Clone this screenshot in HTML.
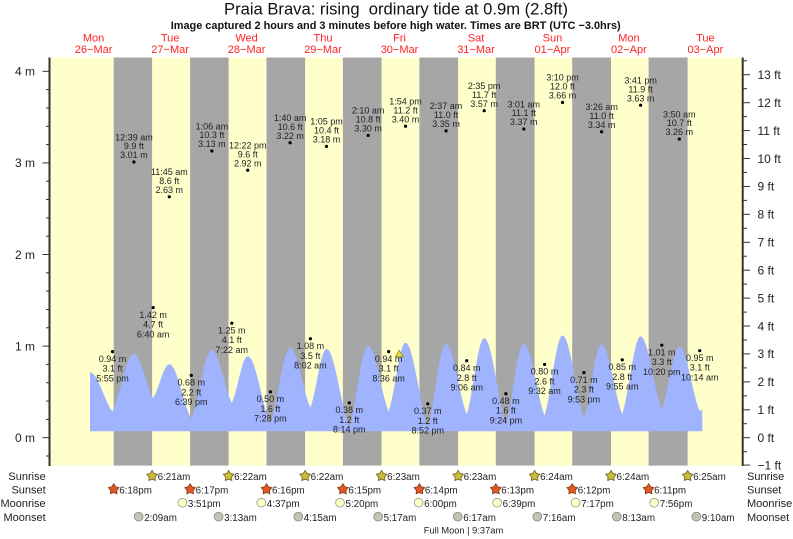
<!DOCTYPE html>
<html><head><meta charset="utf-8"><title>Praia Brava tide</title>
<style>
html,body{margin:0;padding:0;background:#fff;}
svg{display:block;}
text{font-family:"Liberation Sans",Arial,Helvetica,sans-serif;}
.tl{font-size:9px;fill:#222;text-anchor:middle;}
.day{font-size:11px;fill:#f22;text-anchor:middle;}
.ax{font-size:12px;fill:#222;}
.row{font-size:11px;fill:#222;}
.rt{font-size:9.8px;fill:#222;}
</style></head>
<body>
<svg width="793" height="539" viewBox="0 0 793 539" xmlns="http://www.w3.org/2000/svg">
<defs>
<path id="star" d="M0,-5.5 L1.85,-2.55 L5.23,-1.7 L3.0,0.98 L3.23,4.45 L0,3.15 L-3.23,4.45 L-3.0,0.98 L-5.23,-1.7 L-1.85,-2.55 Z"/>
</defs>
<rect x="0" y="0" width="793" height="539" fill="#fff"/>
<!-- title -->
<text x="396" y="14.5" font-size="16.6" fill="#111" text-anchor="middle" textLength="344" lengthAdjust="spacingAndGlyphs" style="white-space:pre" xml:space="preserve">Praia Brava: rising  ordinary tide at 0.9m (2.8ft)</text>
<text x="395.7" y="29" font-size="11" font-weight="bold" fill="#111" text-anchor="middle" textLength="450" lengthAdjust="spacingAndGlyphs">Image captured 2 hours and 3 minutes before high water. Times are BRT (UTC −3.0hrs)</text>
<!-- day labels -->
<g class="day">
<text x="93.6" y="41.5">Mon</text><text x="93.6" y="53">26−Mar</text>
<text x="170.1" y="41.5">Tue</text><text x="170.1" y="53">27−Mar</text>
<text x="246.6" y="41.5">Wed</text><text x="246.6" y="53">28−Mar</text>
<text x="323" y="41.5">Thu</text><text x="323" y="53">29−Mar</text>
<text x="399.5" y="41.5">Fri</text><text x="399.5" y="53">30−Mar</text>
<text x="476" y="41.5">Sat</text><text x="476" y="53">31−Mar</text>
<text x="552.4" y="41.5">Sun</text><text x="552.4" y="53">01−Apr</text>
<text x="628.9" y="41.5">Mon</text><text x="628.9" y="53">02−Apr</text>
<text x="705.4" y="41.5">Tue</text><text x="705.4" y="53">03−Apr</text>
</g>
<!-- plot background -->
<rect x="50" y="57.5" width="692.7" height="408.1" fill="#ffffcc"/>
<g fill="#a6a6a6">
<rect x="113.7" y="57.5" width="38.4" height="408.1"/>
<rect x="190.1" y="57.5" width="38.5" height="408.1"/>
<rect x="266.5" y="57.5" width="38.6" height="408.1"/>
<rect x="342.9" y="57.5" width="38.7" height="408.1"/>
<rect x="419.4" y="57.5" width="38.7" height="408.1"/>
<rect x="495.8" y="57.5" width="38.8" height="408.1"/>
<rect x="572.2" y="57.5" width="38.8" height="408.1"/>
<rect x="648.6" y="57.5" width="39" height="408.1"/>
</g>
<!-- tide fill -->
<path fill="#9fb3ff" d="M90,431.3 L90,372.4
C98.09,372.4 104.39,401.69 112.48,411.46
C120.21,397.01 126.21,353.66 133.94,353.66
C140.84,353.66 146.21,386.95 153.11,398.05
C158.94,389.6 163.47,364.27 169.3,364.27
C177.22,364.27 183.37,405.1 191.29,418.71
C198.68,401.61 204.44,350.31 211.83,350.31
C219.02,350.31 224.61,389.68 231.8,402.8
C237.53,391.14 242,356.17 247.73,356.17
C255.87,356.17 262.21,406.85 270.35,423.74
C277.46,404.75 282.99,347.8 290.1,347.8
C297.4,347.8 303.09,392.61 310.39,407.55
C316.18,392.89 320.69,348.91 326.48,348.91
C334.68,348.91 341.06,407.54 349.26,427.09
C356.06,406.71 361.36,345.56 368.16,345.56
C375.54,345.56 381.28,394.98 388.66,411.46
C394.74,394.29 399.47,342.77 405.55,342.77
C413.54,342.77 419.75,406.22 427.74,427.37
C434.34,406.57 439.46,344.17 446.06,344.17
C453.5,344.17 459.28,396.73 466.72,414.25
C473.01,395.19 477.89,338.03 484.18,338.03
C492,338.03 498.08,402.73 505.9,424.3
C512.34,404.13 517.36,343.61 523.8,343.61
C531.27,343.61 537.09,397.42 544.56,415.36
C551.02,395.4 556.05,335.51 562.51,335.51
C570.21,335.51 576.2,397.29 583.9,417.88
C590.27,399.52 595.22,344.45 601.59,344.45
C609.02,344.45 614.81,396.59 622.24,413.97
C628.85,394.56 634,336.35 640.61,336.35
C648.24,336.35 654.17,391.21 661.8,409.5
C668.11,393.79 673.01,346.68 679.32,346.68
C686.66,346.68 692.37,395.05 699.71,411.18
L702.3,409.2 L702.3,431.3 Z"/>
<!-- dots -->
<g fill="#000">
<circle cx="112.48" cy="351.6" r="1.6"/>
<circle cx="133.94" cy="161.98" r="1.6"/>
<circle cx="153.11" cy="307.63" r="1.6"/>
<circle cx="169.3" cy="196.79" r="1.6"/>
<circle cx="191.29" cy="375.41" r="1.6"/>
<circle cx="211.83" cy="150.99" r="1.6"/>
<circle cx="231.8" cy="323.2" r="1.6"/>
<circle cx="247.73" cy="170.23" r="1.6"/>
<circle cx="270.35" cy="391.9" r="1.6"/>
<circle cx="290.1" cy="142.75" r="1.6"/>
<circle cx="310.39" cy="338.77" r="1.6"/>
<circle cx="326.48" cy="146.41" r="1.6"/>
<circle cx="349.26" cy="402.89" r="1.6"/>
<circle cx="368.16" cy="135.42" r="1.6"/>
<circle cx="388.66" cy="351.6" r="1.6"/>
<circle cx="405.55" cy="126.26" r="1.6"/>
<circle cx="427.74" cy="403.81" r="1.6"/>
<circle cx="446.06" cy="130.84" r="1.6"/>
<circle cx="466.72" cy="360.76" r="1.6"/>
<circle cx="484.18" cy="110.69" r="1.6"/>
<circle cx="505.9" cy="393.73" r="1.6"/>
<circle cx="523.8" cy="129.01" r="1.6"/>
<circle cx="544.56" cy="364.42" r="1.6"/>
<circle cx="562.51" cy="102.44" r="1.6"/>
<circle cx="583.9" cy="372.66" r="1.6"/>
<circle cx="601.59" cy="131.76" r="1.6"/>
<circle cx="622.24" cy="359.84" r="1.6"/>
<circle cx="640.61" cy="105.19" r="1.6"/>
<circle cx="661.8" cy="345.18" r="1.6"/>
<circle cx="679.32" cy="139.08" r="1.6"/>
<circle cx="699.71" cy="350.68" r="1.6"/>
</g>
<!-- high tide labels -->
<g class="tl">
<text x="133.94" y="140.3">12:39 am</text><text x="133.94" y="149.1">9.9 ft</text><text x="133.94" y="158.1">3.01 m</text>
<text x="169.3" y="175.1">11:45 am</text><text x="169.3" y="183.9">8.6 ft</text><text x="169.3" y="192.9">2.63 m</text>
<text x="211.83" y="129.3">1:06 am</text><text x="211.83" y="138.1">10.3 ft</text><text x="211.83" y="147.1">3.13 m</text>
<text x="247.73" y="148.5">12:22 pm</text><text x="247.73" y="157.3">9.6 ft</text><text x="247.73" y="166.3">2.92 m</text>
<text x="290.1" y="121.1">1:40 am</text><text x="290.1" y="129.9">10.6 ft</text><text x="290.1" y="138.9">3.22 m</text>
<text x="326.48" y="124.7">1:05 pm</text><text x="326.48" y="133.5">10.4 ft</text><text x="326.48" y="142.5">3.18 m</text>
<text x="368.16" y="113.7">2:10 am</text><text x="368.16" y="122.5">10.8 ft</text><text x="368.16" y="131.5">3.30 m</text>
<text x="405.55" y="104.6">1:54 pm</text><text x="405.55" y="113.4">11.2 ft</text><text x="405.55" y="122.4">3.40 m</text>
<text x="446.06" y="109.1">2:37 am</text><text x="446.06" y="117.9">11.0 ft</text><text x="446.06" y="126.9">3.35 m</text>
<text x="484.18" y="89">2:35 pm</text><text x="484.18" y="97.8">11.7 ft</text><text x="484.18" y="106.8">3.57 m</text>
<text x="523.8" y="107.3">3:01 am</text><text x="523.8" y="116.1">11.1 ft</text><text x="523.8" y="125.1">3.37 m</text>
<text x="562.51" y="80.7">3:10 pm</text><text x="562.51" y="89.5">12.0 ft</text><text x="562.51" y="98.5">3.66 m</text>
<text x="601.59" y="110.1">3:26 am</text><text x="601.59" y="118.9">11.0 ft</text><text x="601.59" y="127.9">3.34 m</text>
<text x="640.61" y="83.5">3:41 pm</text><text x="640.61" y="92.3">11.9 ft</text><text x="640.61" y="101.3">3.63 m</text>
<text x="679.32" y="117.4">3:50 am</text><text x="679.32" y="126.2">10.7 ft</text><text x="679.32" y="135.2">3.26 m</text>
</g>
<!-- low tide labels -->
<g class="tl">
<text x="112.48" y="361.9">0.94 m</text><text x="112.48" y="371.6">3.1 ft</text><text x="112.48" y="381.3">5:55 pm</text>
<text x="153.11" y="317.9">1.42 m</text><text x="153.11" y="327.6">4.7 ft</text><text x="153.11" y="337.3">6:40 am</text>
<text x="191.29" y="385.7">0.68 m</text><text x="191.29" y="395.4">2.2 ft</text><text x="191.29" y="405.1">6:39 pm</text>
<text x="231.8" y="333.5">1.25 m</text><text x="231.8" y="343.2">4.1 ft</text><text x="231.8" y="352.9">7:22 am</text>
<text x="270.35" y="402.2">0.50 m</text><text x="270.35" y="411.9">1.6 ft</text><text x="270.35" y="421.6">7:28 pm</text>
<text x="310.39" y="349.1">1.08 m</text><text x="310.39" y="358.8">3.5 ft</text><text x="310.39" y="368.5">8:02 am</text>
<text x="349.26" y="413.2">0.38 m</text><text x="349.26" y="422.9">1.2 ft</text><text x="349.26" y="432.6">8:14 pm</text>
<text x="388.66" y="361.9">0.94 m</text><text x="388.66" y="371.6">3.1 ft</text><text x="388.66" y="381.3">8:36 am</text>
<text x="427.74" y="414.1">0.37 m</text><text x="427.74" y="423.8">1.2 ft</text><text x="427.74" y="433.5">8:52 pm</text>
<text x="466.72" y="371.1">0.84 m</text><text x="466.72" y="380.8">2.8 ft</text><text x="466.72" y="390.5">9:06 am</text>
<text x="505.9" y="404">0.48 m</text><text x="505.9" y="413.7">1.6 ft</text><text x="505.9" y="423.4">9:24 pm</text>
<text x="544.56" y="374.7">0.80 m</text><text x="544.56" y="384.4">2.6 ft</text><text x="544.56" y="394.1">9:32 am</text>
<text x="583.9" y="383">0.71 m</text><text x="583.9" y="392.7">2.3 ft</text><text x="583.9" y="402.4">9:53 pm</text>
<text x="622.24" y="370.1">0.85 m</text><text x="622.24" y="379.8">2.8 ft</text><text x="622.24" y="389.5">9:55 am</text>
<text x="661.8" y="355.5">1.01 m</text><text x="661.8" y="365.2">3.3 ft</text><text x="661.8" y="374.9">10:20 pm</text>
<text x="699.71" y="361">0.95 m</text><text x="699.71" y="370.7">3.1 ft</text><text x="699.71" y="380.4">10:14 am</text>
</g>
<!-- current marker -->
<polygon points="399.3,350.3 395.4,356.8 403.2,356.8" fill="#e8e030" stroke="#8a8030" stroke-width="0.7"/>
<!-- axes -->
<line x1="49.5" y1="57.5" x2="49.5" y2="466" stroke="#333" stroke-width="2"/>
<line x1="742.7" y1="57.5" x2="742.7" y2="466" stroke="#333" stroke-width="2"/>
<g stroke="#333" stroke-width="1">
<line x1="42.5" y1="437.7" x2="49" y2="437.7"/>
<line x1="42.5" y1="346.1" x2="49" y2="346.1"/>
<line x1="42.5" y1="254.5" x2="49" y2="254.5"/>
<line x1="42.5" y1="162.9" x2="49" y2="162.9"/>
<line x1="42.5" y1="71.3" x2="49" y2="71.3"/>
<line x1="46" y1="456" x2="49" y2="456"/>
<line x1="46" y1="419.4" x2="49" y2="419.4"/>
<line x1="46" y1="401.1" x2="49" y2="401.1"/>
<line x1="46" y1="382.7" x2="49" y2="382.7"/>
<line x1="46" y1="364.4" x2="49" y2="364.4"/>
<line x1="46" y1="327.8" x2="49" y2="327.8"/>
<line x1="46" y1="309.5" x2="49" y2="309.5"/>
<line x1="46" y1="291.1" x2="49" y2="291.1"/>
<line x1="46" y1="272.8" x2="49" y2="272.8"/>
<line x1="46" y1="236.2" x2="49" y2="236.2"/>
<line x1="46" y1="217.9" x2="49" y2="217.9"/>
<line x1="46" y1="199.5" x2="49" y2="199.5"/>
<line x1="46" y1="181.2" x2="49" y2="181.2"/>
<line x1="46" y1="144.6" x2="49" y2="144.6"/>
<line x1="46" y1="126.3" x2="49" y2="126.3"/>
<line x1="46" y1="107.9" x2="49" y2="107.9"/>
<line x1="46" y1="89.6" x2="49" y2="89.6"/>
<line x1="743" y1="465.1" x2="750" y2="465.1"/>
<line x1="743" y1="437.7" x2="750" y2="437.7"/>
<line x1="743" y1="409.8" x2="750" y2="409.8"/>
<line x1="743" y1="381.9" x2="750" y2="381.9"/>
<line x1="743" y1="353.9" x2="750" y2="353.9"/>
<line x1="743" y1="326" x2="750" y2="326"/>
<line x1="743" y1="298.1" x2="750" y2="298.1"/>
<line x1="743" y1="270.2" x2="750" y2="270.2"/>
<line x1="743" y1="242.3" x2="750" y2="242.3"/>
<line x1="743" y1="214.3" x2="750" y2="214.3"/>
<line x1="743" y1="186.4" x2="750" y2="186.4"/>
<line x1="743" y1="158.5" x2="750" y2="158.5"/>
<line x1="743" y1="130.6" x2="750" y2="130.6"/>
<line x1="743" y1="102.7" x2="750" y2="102.7"/>
<line x1="743" y1="74.7" x2="750" y2="74.7"/>
<line x1="743" y1="451.7" x2="747" y2="451.7"/>
<line x1="743" y1="423.7" x2="747" y2="423.7"/>
<line x1="743" y1="395.8" x2="747" y2="395.8"/>
<line x1="743" y1="367.9" x2="747" y2="367.9"/>
<line x1="743" y1="340" x2="747" y2="340"/>
<line x1="743" y1="312.1" x2="747" y2="312.1"/>
<line x1="743" y1="284.1" x2="747" y2="284.1"/>
<line x1="743" y1="256.2" x2="747" y2="256.2"/>
<line x1="743" y1="228.3" x2="747" y2="228.3"/>
<line x1="743" y1="200.4" x2="747" y2="200.4"/>
<line x1="743" y1="172.5" x2="747" y2="172.5"/>
<line x1="743" y1="144.5" x2="747" y2="144.5"/>
<line x1="743" y1="116.6" x2="747" y2="116.6"/>
<line x1="743" y1="88.7" x2="747" y2="88.7"/>
<line x1="743" y1="60.8" x2="747" y2="60.8"/>
</g>
<!-- left axis labels -->
<g class="ax" text-anchor="end">
<text x="35" y="442">0 m</text>
<text x="35" y="350.4">1 m</text>
<text x="35" y="258.8">2 m</text>
<text x="35" y="167.2">3 m</text>
<text x="35" y="75.6">4 m</text>
</g>
<!-- right axis labels -->
<g class="ax">
<text x="757.5" y="469.6">−1 ft</text>
<text x="757.5" y="442">0 ft</text>
<text x="757.5" y="414.1">1 ft</text>
<text x="757.5" y="386.2">2 ft</text>
<text x="757.5" y="358.2">3 ft</text>
<text x="757.5" y="330.3">4 ft</text>
<text x="757.5" y="302.4">5 ft</text>
<text x="757.5" y="274.5">6 ft</text>
<text x="757.5" y="246.6">7 ft</text>
<text x="757.5" y="218.6">8 ft</text>
<text x="757.5" y="190.7">9 ft</text>
<text x="757.5" y="162.8">10 ft</text>
<text x="757.5" y="134.9">11 ft</text>
<text x="757.5" y="107">12 ft</text>
<text x="757.5" y="79">13 ft</text>
</g>
<!-- row labels -->
<g class="row" text-anchor="end">
<text x="45.7" y="479.8">Sunrise</text>
<text x="45.7" y="493.5">Sunset</text>
<text x="45.7" y="507">Moonrise</text>
<text x="45.7" y="520.8">Moonset</text>
</g>
<g class="row">
<text x="747" y="479.8">Sunrise</text>
<text x="747" y="493.5">Sunset</text>
<text x="747" y="507">Moonrise</text>
<text x="747" y="520.8">Moonset</text>
</g>
<!-- sunrise icons -->
<g fill="#c8be3c" stroke="#7a6a28" stroke-width="0.9">
<use href="#star" x="152.1" y="476"/>
<use href="#star" x="228.6" y="476"/>
<use href="#star" x="305.1" y="476"/>
<use href="#star" x="381.6" y="476"/>
<use href="#star" x="458.1" y="476"/>
<use href="#star" x="534.6" y="476"/>
<use href="#star" x="611" y="476"/>
<use href="#star" x="687.6" y="476"/>
</g>
<g class="rt">
<text x="157.6" y="480.2">6:21am</text>
<text x="234.1" y="480.2">6:22am</text>
<text x="310.6" y="480.2">6:22am</text>
<text x="387.1" y="480.2">6:23am</text>
<text x="463.6" y="480.2">6:23am</text>
<text x="540.1" y="480.2">6:24am</text>
<text x="616.5" y="480.2">6:24am</text>
<text x="693.1" y="480.2">6:25am</text>
</g>
<!-- sunset icons -->
<g fill="#e05a28" stroke="#8a3a10" stroke-width="0.9">
<use href="#star" x="113.7" y="489.3"/>
<use href="#star" x="190.1" y="489.3"/>
<use href="#star" x="266.5" y="489.3"/>
<use href="#star" x="342.9" y="489.3"/>
<use href="#star" x="419.4" y="489.3"/>
<use href="#star" x="495.8" y="489.3"/>
<use href="#star" x="572.2" y="489.3"/>
<use href="#star" x="648.6" y="489.3"/>
</g>
<g class="rt">
<text x="119.2" y="493.5">6:18pm</text>
<text x="195.6" y="493.5">6:17pm</text>
<text x="272" y="493.5">6:16pm</text>
<text x="348.4" y="493.5">6:15pm</text>
<text x="424.9" y="493.5">6:14pm</text>
<text x="501.3" y="493.5">6:13pm</text>
<text x="577.7" y="493.5">6:12pm</text>
<text x="654.1" y="493.5">6:11pm</text>
</g>
<!-- moonrise -->
<g fill="#ffffc8" stroke="#9a9a8a" stroke-width="0.8">
<circle cx="182.4" cy="502.7" r="4.4"/>
<circle cx="261.3" cy="502.7" r="4.4"/>
<circle cx="340" cy="502.7" r="4.4"/>
<circle cx="418.6" cy="502.7" r="4.4"/>
<circle cx="497.1" cy="502.7" r="4.4"/>
<circle cx="575.6" cy="502.7" r="4.4"/>
<circle cx="654.2" cy="502.7" r="4.4"/>
</g>
<g class="rt">
<text x="187.9" y="507">3:51pm</text>
<text x="266.8" y="507">4:37pm</text>
<text x="345.5" y="507">5:20pm</text>
<text x="424.1" y="507">6:00pm</text>
<text x="502.6" y="507">6:39pm</text>
<text x="581.1" y="507">7:17pm</text>
<text x="659.7" y="507">7:56pm</text>
</g>
<!-- moonset -->
<g fill="#c4c4b4" stroke="#8a8a80" stroke-width="0.8">
<circle cx="138.7" cy="516.7" r="4.4"/>
<circle cx="218.6" cy="516.7" r="4.4"/>
<circle cx="298.3" cy="516.7" r="4.4"/>
<circle cx="378.1" cy="516.7" r="4.4"/>
<circle cx="457.7" cy="516.7" r="4.4"/>
<circle cx="537.3" cy="516.7" r="4.4"/>
<circle cx="616.8" cy="516.7" r="4.4"/>
<circle cx="696.3" cy="516.7" r="4.4"/>
</g>
<g class="rt">
<text x="144.2" y="520.8">2:09am</text>
<text x="224.1" y="520.8">3:13am</text>
<text x="303.8" y="520.8">4:15am</text>
<text x="383.6" y="520.8">5:17am</text>
<text x="463.2" y="520.8">6:17am</text>
<text x="542.8" y="520.8">7:16am</text>
<text x="622.3" y="520.8">8:13am</text>
<text x="701.8" y="520.8">9:10am</text>
</g>
<text x="463.5" y="533.3" font-size="9.3" fill="#222" text-anchor="middle">Full Moon | 9:37am</text>
</svg>
</body></html>
